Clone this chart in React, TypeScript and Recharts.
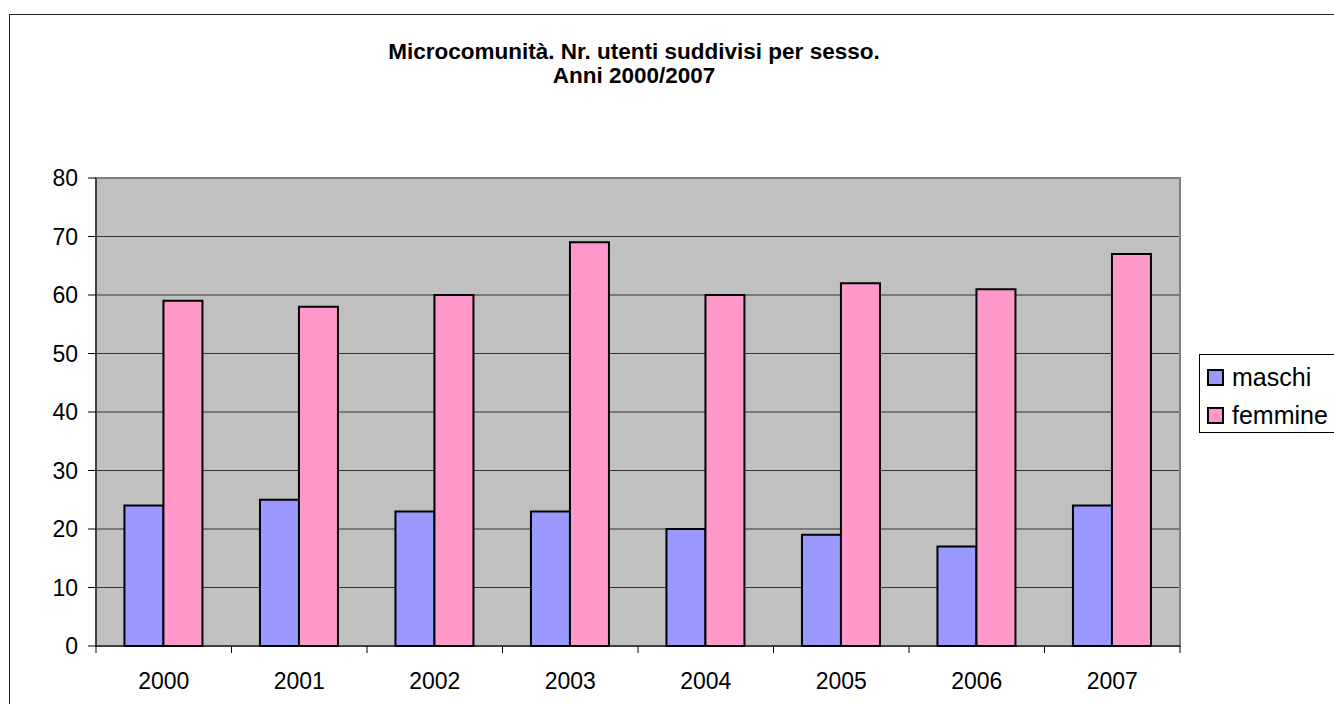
import React from "react";
import { BarChart, Bar, XAxis, YAxis, CartesianGrid, Legend, ReferenceArea } from "recharts";

const years = ["2000", "2001", "2002", "2003", "2004", "2005", "2006", "2007"];
const maschi = [24, 25, 23, 23, 20, 19, 17, 24];
const femmine = [59, 58, 60, 69, 60, 62, 61, 67];
const yTicks = [0, 10, 20, 30, 40, 50, 60, 70, 80];
const seriesOrder = ["maschi", "femmine"];

const rows = years.map((y, i) => ({ year: y, maschi: maschi[i], femmine: femmine[i] }));

const FONT = "Arial, 'Liberation Sans', sans-serif";

// Excel style: tick marks sit between the categories, label in the middle
function XTick(props: any) {
  const { x, y, payload, index } = props;
  const half = payload.offset || 0;
  const last = index === years.length - 1;
  return (
    <g>
      <line x1={x - half} x2={x - half} y1={y - 7} y2={y} stroke="#000" strokeWidth={1} />
      {last && <line x1={x + half} x2={x + half} y1={y - 7} y2={y} stroke="#000" strokeWidth={1} />}
      <text x={x} y={y + 36} textAnchor="middle" fontSize={23} fontFamily={FONT} fill="#000">
        {payload.value}
      </text>
    </g>
  );
}

function LegendBox(props: any) {
  const items = [...(props.payload || [])].sort(
    (a: any, b: any) => seriesOrder.indexOf(a.value) - seriesOrder.indexOf(b.value)
  );
  return (
    <div style={{ border: "1px solid #000", background: "#fff", width: 150, height: 79, padding: "3px 0 0 7px", boxSizing: "border-box", fontFamily: FONT }}>
      {items.map((it: any) => (
        <div key={it.value} style={{ display: "flex", alignItems: "center", height: 38, fontSize: 25, color: "#000" }}>
          <span style={{ display: "inline-block", width: 13, height: 13, border: "2px solid #000", background: it.color, marginRight: 8 }} />
          {it.value}
        </div>
      ))}
    </div>
  );
}

export default function App() {
  return (
    <div style={{ position: "absolute", left: 0, top: 0, width: 1334, height: 704, overflow: "hidden", background: "#fff", fontFamily: FONT }}>
      <div style={{ position: "absolute", left: 9, top: 14, width: 1400, height: 800, border: "1px solid #222" }} />
      <div style={{ position: "absolute", left: 0, top: 40, width: 1268, textAlign: "center", fontWeight: "bold", fontSize: 22.5, lineHeight: "24px", color: "#000" }}>
        Microcomunità. Nr. utenti suddivisi per sesso.
        <br />
        Anni 2000/2007
      </div>
      <div style={{ position: "absolute", left: 0, top: 0 }}>
        <BarChart width={1334} height={704} data={rows} margin={{ top: 178, right: 154, bottom: 0, left: 0 }} barCategoryGap="21%" barGap={0}>
          <CartesianGrid vertical={false} stroke="#333" fill="#c0c0c0" fillOpacity={1} />
          <ReferenceArea y1={0} y2={80} fill="none" stroke="#808080" strokeWidth={2} />
          <XAxis
            dataKey="year"
            height={58}
            interval={0}
            tickSize={7}
            tickMargin={0}
            tickLine={false}
            tick={<XTick />}
            axisLine={{ stroke: "#000", strokeWidth: 1 }}
          />
          <YAxis
            width={96}
            domain={[0, 80]}
            ticks={yTicks}
            interval={0}
            tickSize={8}
            tickMargin={10}
            tick={{ fontSize: 23, fontFamily: FONT, fill: "#000" }}
            tickLine={{ stroke: "#000" }}
            axisLine={{ stroke: "#000", strokeWidth: 1 }}
          />
          <Legend layout="horizontal" align="center" verticalAlign="middle" content={<LegendBox />} wrapperStyle={{ left: 1199, top: 354, width: 150 }} />
          <Bar dataKey="maschi" name="maschi" fill="#9999ff" stroke="#000" strokeWidth={2} isAnimationActive={false} />
          <Bar dataKey="femmine" name="femmine" fill="#ff99cc" stroke="#000" strokeWidth={2} isAnimationActive={false} />
        </BarChart>
      </div>
    </div>
  );
}
